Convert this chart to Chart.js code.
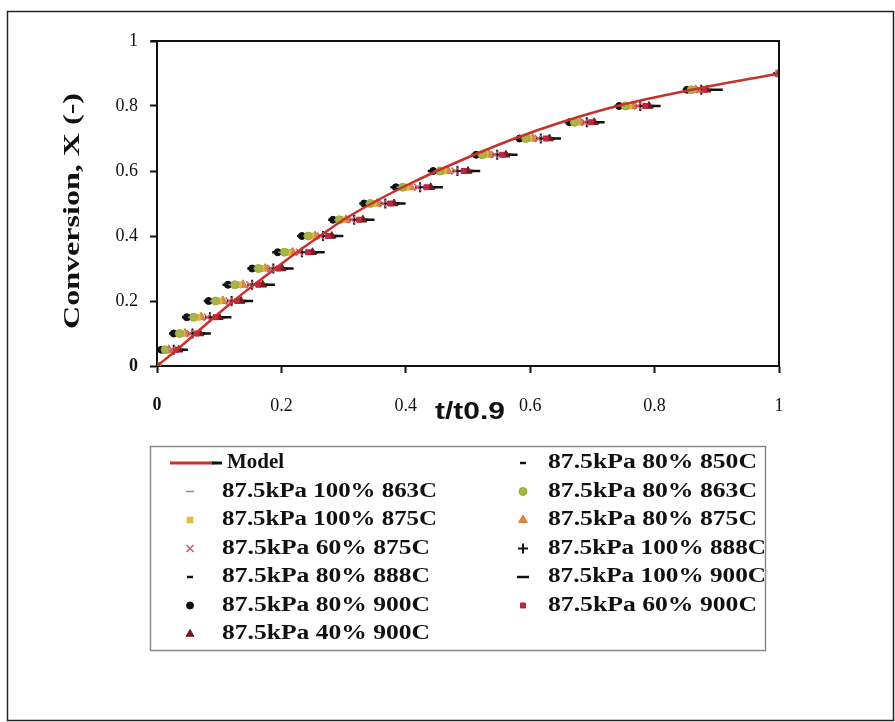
<!DOCTYPE html>
<html>
<head>
<meta charset="utf-8">
<script src="https://cdn.jsdelivr.net/npm/chart.js"></script>
<style>
  html, body { margin: 0; padding: 0; background: #fff; }
  #wrap { width: 895px; height: 722px; position: relative; }
</style>
</head>
<body>
<div id="wrap"><canvas id="c" width="895" height="722"></canvas></div>
<script>
// ---- data (conversion levels and normalised times t/t0.9 for each run) ----
const conversion = [0, 0.05, 0.1, 0.15, 0.2, 0.25, 0.3, 0.35, 0.4, 0.45, 0.5, 0.55, 0.6, 0.65, 0.7, 0.75, 0.8, 0.85, 0.9];
const modelT   = [0, 0.032, 0.062, 0.092, 0.123, 0.156, 0.19, 0.225, 0.262, 0.30, 0.345, 0.395, 0.45, 0.51, 0.575, 0.65, 0.74, 0.86, 1];
const t_80_850  = [0, .005, .024, .045, .080, .110, .150, .190, .230, .280, .330, .380, .440, .510, .580, .660, .740, .850, 1];
const t_100_863 = [0, .009, .030, .053, .088, .118, .157, .198, .237, .287, .337, .388, .448, .517, .587, .666, .747, .855, 1];
const t_80_863  = [0, .013, .036, .059, .094, .125, .163, .205, .243, .293, .343, .395, .455, .523, .593, .671, .753, .859, 1];
const t_100_875 = [0, .016, .040, .065, .100, .131, .168, .211, .248, .298, .348, .401, .461, .528, .598, .675, .758, .862, 1];
const t_80_875  = [0, .019, .045, .071, .106, .138, .174, .218, .254, .304, .354, .408, .468, .534, .604, .680, .764, .866, 1];
const t_60_875  = [0, .024, .053, .081, .116, .149, .183, .229, .263, .313, .363, .419, .479, .543, .613, .688, .773, .872, 1];
const t_100_888 = [0, .027, .057, .085, .120, .153, .187, .233, .267, .317, .367, .423, .483, .547, .617, .691, .777, .875, 1];
const t_80_888  = [0, .037, .073, .105, .140, .174, .205, .254, .285, .335, .385, .444, .504, .565, .635, .706, .795, .887, 1];
const t_100_900 = [0, .040, .077, .110, .145, .180, .210, .260, .290, .340, .390, .450, .510, .570, .640, .710, .800, .900, 1];
const t_80_900  = [0, .007, .027, .048, .083, .114, .153, .194, .233, .283, .333, .384, .444, .513, .583, .663, .743, .852, 1];
const t_60_900  = [0, .031, .064, .094, .129, .163, .195, .243, .275, .325, .375, .433, .493, .555, .625, .698, .785, .880, 1];
const t_40_900  = [0, .035, .069, .100, .135, .170, .201, .250, .281, .331, .381, .440, .500, .561, .631, .703, .791, .884, 1];
const xTicks = [0, 0.2, 0.4, 0.6, 0.8, 1];
const yTicks = [0, 0.2, 0.4, 0.6, 0.8, 1];

// ---- styles ----
const series = [
  { label: '87.5kPa 80% 850C',  t: t_80_850,  style: 'line',     r: 3,   color: '#111', fill: '#111', bw: 2.5, z: 3 },
  { label: '87.5kPa 100% 863C', t: t_100_863, style: 'line',     r: 4,   color: '#7f8fa8', fill: '#7f8fa8', bw: 1.5, z: 3 },
  { label: '87.5kPa 80% 863C',  t: t_80_863,  style: 'circle',   r: 4,   color: '#9aa63a', fill: '#a8b446', bw: 1, z: 2 },
  { label: '87.5kPa 100% 875C', t: t_100_875, style: 'rect',     r: 4,   color: '#e2b22c', fill: '#e8bc3a', bw: 1, z: 2 },
  { label: '87.5kPa 80% 875C',  t: t_80_875,  style: 'triangle', r: 5,   color: '#cf7a3c', fill: '#d9884a', bw: 1, z: 2 },
  { label: '87.5kPa 60% 875C',  t: t_60_875,  style: 'crossRot', r: 5,   color: '#cc5a6a', fill: '#cc5a6a', bw: 1.5, z: 1 },
  { label: '87.5kPa 100% 888C', t: t_100_888, style: 'cross',    r: 5,   color: '#111', fill: '#111', bw: 2, z: 3 },
  { label: '87.5kPa 80% 888C',  t: t_80_888,  style: 'line',     r: 3,   color: '#111', fill: '#111', bw: 2.5, z: 3 },
  { label: '87.5kPa 100% 900C', t: t_100_900, style: 'line',     r: 6,   color: '#111', fill: '#111', bw: 2.5, z: 3 },
  { label: '87.5kPa 80% 900C',  t: t_80_900,  style: 'circle',   r: 3.5, color: '#111', fill: '#111', bw: 1, z: 3 },
  { label: '87.5kPa 60% 900C',  t: t_60_900,  style: 'rect',     r: 3.5, color: '#b8203e', fill: '#c02848', bw: 1, z: 1 },
  { label: '87.5kPa 40% 900C',  t: t_40_900,  style: 'triangle', r: 4.5, color: '#6a1616', fill: '#7a1c1c', bw: 1, z: 1 }
];
const modelColor = '#c8302c';

const datasets = [{
  label: 'Model',
  type: 'line',
  data: modelT.map((t, i) => ({ x: t, y: conversion[i] })),
  borderColor: modelColor,
  backgroundColor: modelColor,
  borderWidth: 2.5,
  pointRadius: 0,
  cubicInterpolationMode: 'monotone',
  fill: false,
  order: 0
}].concat(series.map(s => ({
  label: s.label,
  type: 'scatter',
  data: s.t.map((t, i) => ({ x: t, y: conversion[i] })),
  pointStyle: s.style,
  pointRadius: s.r,
  pointBorderWidth: s.bw,
  borderColor: s.color,
  backgroundColor: s.fill,
  showLine: false,
  order: s.z
})));

// Legend layout (rows in two columns, as in the figure)
const legendLeft = ['Model', '87.5kPa 100% 863C', '87.5kPa 100% 875C', '87.5kPa 60% 875C', '87.5kPa 80% 888C', '87.5kPa 80% 900C', '87.5kPa 40% 900C'];
const legendRight = ['87.5kPa 80% 850C', '87.5kPa 80% 863C', '87.5kPa 80% 875C', '87.5kPa 100% 888C', '87.5kPa 100% 900C', '87.5kPa 60% 900C'];

function fmt(v) {
  if (Math.abs(v) < 1e-9) return '0';
  if (Math.abs(v - 1) < 1e-9) return '1';
  return v.toFixed(1);
}

// draw text stretched horizontally to a target width (the scanned figure is widened)
function stretchedText(ctx, text, x, y, target) {
  const w = ctx.measureText(text).width;
  const sx = w > 0 ? target / w : 1;
  ctx.save();
  ctx.translate(x, y);
  ctx.scale(sx, 1);
  ctx.fillText(text, 0, 0);
  ctx.restore();
}

const decor = {
  id: 'decor',
  afterDraw(chart) {
    const ctx = chart.ctx;
    const a = chart.chartArea;
    ctx.save();
    // outer frame
    ctx.strokeStyle = '#222';
    ctx.lineWidth = 1.5;
    ctx.strokeRect(7.5, 11.5, 886, 709);
    // plot frame: top and right edges
    ctx.strokeStyle = '#111';
    ctx.lineWidth = 2;
    ctx.beginPath();
    ctx.moveTo(a.left - 6, a.top);
    ctx.lineTo(a.right, a.top);
    ctx.lineTo(a.right, a.bottom);
    ctx.stroke();

    // axis titles
    ctx.fillStyle = '#111';
    ctx.textAlign = 'center';
    ctx.textBaseline = 'middle';
    ctx.save();
    ctx.translate(73, 211);
    ctx.rotate(-Math.PI / 2);
    ctx.font = 'bold 24px "Liberation Serif"';
    stretchedText(ctx, 'Conversion, X (-)', 0, 0, 236);
    ctx.restore();
    ctx.font = 'bold 23px "Liberation Sans"';
    stretchedText(ctx, 't/t0.9', 470, 413, 70);

    // legend box
    ctx.strokeStyle = '#8a8a8a';
    ctx.lineWidth = 1.5;
    ctx.strokeRect(150.5, 446.5, 615, 204);

    const rowY = i => 463 + i * 28.5;
    ctx.textAlign = 'left';
    ctx.font = 'bold 20px "Liberation Serif"';
    const drawItem = (label, mx, tx, y, target) => {
      if (label === 'Model') {
        ctx.strokeStyle = modelColor;
        ctx.lineWidth = 3;
        ctx.beginPath(); ctx.moveTo(170, y); ctx.lineTo(214, y); ctx.stroke();
        ctx.strokeStyle = '#111';
        ctx.beginPath(); ctx.moveTo(212, y); ctx.lineTo(222, y); ctx.stroke();
        ctx.fillStyle = '#111';
        stretchedText(ctx, label, 227, y, 57);
        return;
      }
      const s = series.find(q => q.label === label);
      ctx.fillStyle = s.fill;
      ctx.strokeStyle = s.color;
      ctx.lineWidth = s.bw;
      if (Chart.helpers && Chart.helpers.drawPoint) {
        Chart.helpers.drawPoint(ctx, { pointStyle: s.style, radius: s.r, rotation: 0, borderWidth: s.bw }, mx, y);
      }
      ctx.fillStyle = '#111';
      stretchedText(ctx, label, tx, y, target);
    };
    legendLeft.forEach((l, i) => drawItem(l, 190, 222, rowY(i), l.indexOf('100%') >= 0 ? 215 : 208));
    legendRight.forEach((l, i) => drawItem(l, 523, 548, rowY(i), l.indexOf('100%') >= 0 ? 218 : 209));
    ctx.restore();
  }
};

const tickFont = (c) => ({
  family: '"Liberation Serif"',
  size: 18,
  weight: (c.tick && Math.abs(c.tick.value) < 1e-9) ? 'bold' : 'normal'
});

new Chart(document.getElementById('c'), {
  type: 'scatter',
  data: { datasets },
  options: {
    responsive: false,
    animation: false,
    layout: { padding: { left: 0, top: 41, right: 116, bottom: 0 } },
    plugins: { legend: { display: false }, tooltip: { enabled: false } },
    scales: {
      x: {
        type: 'linear',
        min: 0, max: 1,
        afterFit(s) { s.height = 356; },
        afterBuildTicks(s) { s.ticks = xTicks.map(v => ({ value: v })); },
        border: { display: true, color: '#111', width: 2 },
        grid: { display: true, drawOnChartArea: false, drawTicks: true, tickLength: 7, tickColor: '#111', tickWidth: 2 },
        ticks: { color: '#111', font: tickFont, padding: 22, callback: v => fmt(v), maxRotation: 0 }
      },
      y: {
        type: 'linear',
        min: 0, max: 1,
        afterFit(s) { s.width = 157; },
        afterBuildTicks(s) { s.ticks = yTicks.map(v => ({ value: v })); },
        border: { display: true, color: '#111', width: 2 },
        grid: { display: true, drawOnChartArea: false, drawTicks: true, tickLength: 7, tickColor: '#111', tickWidth: 2 },
        ticks: { color: '#111', font: tickFont, padding: 12, callback: v => fmt(v) }
      }
    }
  },
  plugins: [decor]
});
</script>
</body>
</html>
